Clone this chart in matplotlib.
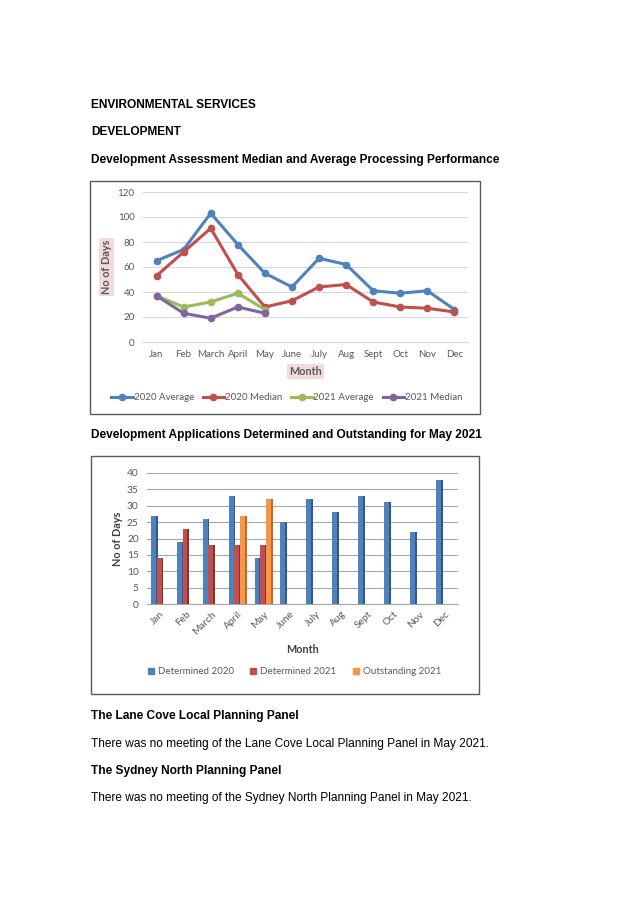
import numpy as np
import matplotlib
matplotlib.use("Agg")
import matplotlib.pyplot as plt
from matplotlib.patches import Rectangle
from matplotlib.lines import Line2D

# Line chart data
months = ["Jan", "Feb", "March", "April", "May", "June", "July", "Aug",
          "Sept", "Oct", "Nov", "Dec"]
avg_2020 = [65, 74, 103, 78, 55, 44, 67, 62, 41, 39, 41, 26]
med_2020 = [53, 72, 91, 54, 28, 33, 44, 46, 32, 28, 27, 24]
avg_2021 = [37, 28, 32, 39, 26]
med_2021 = [37, 23, 19, 28, 23]

# Bar chart data
det_2020 = [27, 19, 26, 33, 14, 25, 32, 28, 33, 31, 22, 38]
det_2021 = [14, 23, 18, 18, 18]
out_2021 = [np.nan, np.nan, np.nan, 27, 32]

W, H = 644, 910
fig = plt.figure(figsize=(W / 100, H / 100), dpi=100)
fig.patch.set_facecolor("white")

DOC = "Liberation Sans"
CH = "Lato"
TICK = "#595959"


def fx(x):
    return x / W


def fy(y):
    return 1 - y / H


def axes_px(left, top, right, bottom):
    return fig.add_axes([fx(left), fy(bottom), (right - left) / W, (bottom - top) / H])


# Document text
doc_lines = [
    ("ENVIRONMENTAL SERVICES", 105, "bold"),
    ("DEVELOPMENT", 132, "bold"),
    ("Development Assessment Median and Average Processing Performance", 160, "bold"),
    ("Development Applications Determined and Outstanding for May 2021", 435, "bold"),
    ("The Lane Cove Local Planning Panel", 716, "bold"),
    ("There was no meeting of the Lane Cove Local Planning Panel in May 2021.", 744, "normal"),
    ("The Sydney North Planning Panel", 771, "bold"),
    ("There was no meeting of the Sydney North Planning Panel in May 2021.", 798, "normal"),
]
for txt, y, wt in doc_lines:
    fig.text(fx(91), fy(y), txt, fontsize=8.6, fontweight=wt, family=DOC,
             va="center", ha="left", color="black")

# Chart boxes
for (l, t, r, b) in [(90, 181, 480, 414), (91, 456, 479, 694)]:
    fig.patches.append(Rectangle((fx(l), fy(b)), (r - l) / W, (b - t) / H,
                                 transform=fig.transFigure, fill=False,
                                 edgecolor="#5a5a5a", linewidth=1.0))

# ---- Line chart ----
ax1 = axes_px(143, 192, 468, 342)
x = np.arange(len(months))
series = [
    (avg_2020, "#4F81BD", "2020 Average"),
    (med_2020, "#C0504D", "2020 Median"),
    (avg_2021, "#9BBB59", "2021 Average"),
    (med_2021, "#8064A2", "2021 Median"),
]
handles = []
for vals, col, lab in series:
    h, = ax1.plot(x[:len(vals)], vals, color=col, linewidth=2.2, marker="o",
                  markersize=4.5, label=lab, zorder=3)
    handles.append(h)
ax1.set_xlim(-0.5, 11.5)
ax1.set_ylim(0, 120)
ax1.set_yticks(range(0, 121, 20))
ax1.set_xticks(x)
ax1.set_xticklabels(months)
ax1.grid(axis="y", color="#d9d9d9", linewidth=0.8)
ax1.set_axisbelow(True)
for s in ["top", "right", "left"]:
    ax1.spines[s].set_visible(False)
ax1.spines["bottom"].set_color("#d9d9d9")
ax1.tick_params(length=0, labelsize=7, colors=TICK, pad=6)
for lbl in ax1.get_xticklabels() + ax1.get_yticklabels():
    lbl.set_family(CH)
ax1.tick_params(axis="y", pad=6)
ax1.set_xlabel("Month", fontsize=7.8, fontweight="bold", family=CH, color=TICK,
               labelpad=5, bbox=dict(facecolor="#f2dcdb", edgecolor="none", pad=1.5))
ax1.set_ylabel("No of Days", fontsize=7.8, fontweight="bold", family=CH, color=TICK,
               labelpad=4, bbox=dict(facecolor="#f2dcdb", edgecolor="none", pad=1.5))
fig.legend(handles=handles, loc="center", bbox_to_anchor=(fx(287), fy(398)), ncol=4,
           frameon=False, prop={"family": CH, "size": 7}, labelcolor=TICK,
           handlelength=2.2, handletextpad=0.1, columnspacing=0.9)

# ---- Bar chart ----
ax2 = axes_px(147, 473, 458, 604)
step = 0.22
bw = 0.26
bars = [
    (det_2020, -step, "#4F81BD", "#2f5a8f", "Determined 2020"),
    (det_2021, 0.0, "#C0504D", "#8c2f2c", "Determined 2021"),
    (out_2021, step, "#F79646", "#c86a1e", "Outstanding 2021"),
]
side = 0.07
for vals, off, col, dark, lab in bars:
    xx = np.arange(len(vals)) + off
    ax2.bar(xx + bw / 2 - side / 2, vals, width=side, color=dark, zorder=3)
    ax2.bar(xx - side / 2, vals, width=bw - side, color=col, zorder=4, label=lab)
ax2.set_xlim(-0.5, 11.5)
ax2.set_ylim(0, 40)
ax2.set_yticks(range(0, 41, 5))
ax2.set_xticks(x)
ax2.set_xticklabels(months, rotation=45, ha="right", rotation_mode="anchor")
ax2.grid(axis="y", color="#a6a6a6", linewidth=0.8)
ax2.set_axisbelow(True)
for s in ["top", "right", "left"]:
    ax2.spines[s].set_visible(False)
ax2.spines["bottom"].set_color("#a6a6a6")
ax2.tick_params(length=0, labelsize=7.3, colors=TICK)
ax2.tick_params(axis="y", pad=6)
ax2.tick_params(axis="x", pad=4)
for lbl in ax2.get_xticklabels() + ax2.get_yticklabels():
    lbl.set_family(CH)
ax2.set_xlabel("Month", fontsize=7.8, fontweight="bold", family=CH, color="#404040", labelpad=6)
ax2.set_ylabel("No of Days", fontsize=7.8, fontweight="bold", family=CH, color="#404040", labelpad=3)
bh = [Line2D([], [], linestyle="none", marker="s", markersize=4.5, color=c, label=l)
      for _, _, c, _, l in bars]
fig.legend(handles=bh, loc="center", bbox_to_anchor=(fx(294), fy(672)), ncol=3,
           frameon=False, prop={"family": CH, "size": 7}, labelcolor=TICK,
           handlelength=0.8, handletextpad=0.3, columnspacing=1.6)

fig.savefig("out.png", dpi=100)
